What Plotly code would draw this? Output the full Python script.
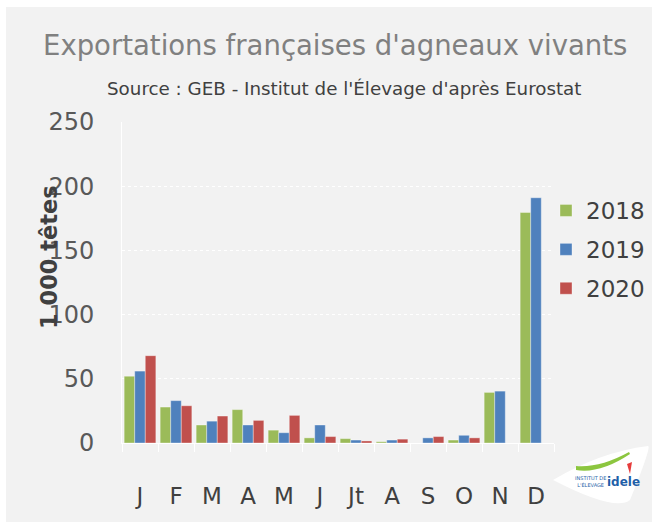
import plotly.graph_objects as go

months = ["J", "F", "M", "A", "M ", "J ", "Jt", "A ", "S", "O", "N", "D"]
tick_labels = ["J", "F", "M", "A", "M", "J", "Jt", "A", "S", "O", "N", "D"]
v2018 = [52, 28, 14, 26, 10, 4, 3.4, 1, None, 2.3, 39.4, 179.5]
v2019 = [56, 33, 17, 14, 8, 14, 2.3, 2.3, 4, 6, 40.4, 191]
v2020 = [68, 29, 21, 17.6, 21.5, 5, 1.6, 3, 5, 4, None, None]

series = [("2018", v2018, "#9bbb59"), ("2019", v2019, "#4f81bd"), ("2020", v2020, "#c0504d")]

W, H = 661, 522
L, R, T, B = 122, 554, 122, 443

def px(x):
    return (x - L) / (R - L)

def py(y):
    return (B - y) / (B - T)

FONT = "DejaVu Sans"

fig = go.Figure()
for i, (name, vals, col) in enumerate(series):
    fig.add_trace(go.Bar(
        x=months, y=vals, name=name, marker_color=col,
        marker_line=dict(color="rgba(255,255,255,0.35)", width=1),
        legendgroup=name,
    ))

shapes = [
    dict(type="rect", xref="paper", yref="paper", x0=px(6), x1=px(652), y0=py(7), y1=py(522),
         fillcolor="#f2f2f2", line=dict(width=0), layer="below"),
    dict(type="path", xref="paper", yref="paper",
         path="M {},{} Q {},{} {},{} Q {},{} {},{} Q {},{} {},{} Z".format(
             px(553), py(480), px(600), py(452), px(648), py(446),
             px(652), py(446), px(630), py(500),
             px(615), py(512), px(553), py(480)),
         fillcolor="white", line=dict(width=0), layer="above"),
    dict(type="path", xref="paper", yref="paper",
         path="M {},{} Q {},{} {},{} L {},{} Q {},{} {},{} Z".format(
             px(576), py(466), px(600), py(468), px(629), py(452),
             px(630), py(454), px(600), py(474), px(576), py(470)),
         fillcolor="#8cc63f", line=dict(width=0), layer="above"),
    dict(type="path", xref="paper", yref="paper",
         path="M {},{} L {},{} L {},{} Z".format(
             px(627), py(464), px(632), py(462), px(630), py(474)),
         fillcolor="#e63c3c", line=dict(width=0), layer="above"),
]

annotations = [
    dict(text="Exportations françaises d'agneaux vivants", x=px(335), y=py(45), xref="paper", yref="paper",
         showarrow=False, font=dict(family=FONT, size=27.5, color="#808080"), xanchor="center", yanchor="middle"),
    dict(text="Source : GEB - Institut de l'Élevage d'après Eurostat", x=px(344), y=py(88), xref="paper", yref="paper",
         showarrow=False, font=dict(family=FONT, size=18.3, color="#404040"), xanchor="center", yanchor="middle"),
    dict(text="<b>1 000 têtes</b>", x=px(49), y=py(257), xref="paper", yref="paper", textangle=-90,
         showarrow=False, font=dict(family=FONT, size=22.5, color="#404040"), xanchor="center", yanchor="middle"),
    dict(text="<b>idele</b>", x=px(623), y=py(482), xref="paper", yref="paper",
         showarrow=False, font=dict(family=FONT, size=12, color="#1f5fa8"), xanchor="center", yanchor="middle"),
    dict(text="INSTITUT DE<br>L'ÉLEVAGE", x=px(590), y=py(482), xref="paper", yref="paper",
         showarrow=False, font=dict(family=FONT, size=5, color="#1f5fa8"), xanchor="center", yanchor="middle"),
]

fig.update_layout(
    width=W, height=H,
    margin=dict(l=L, r=W - R, t=T, b=H - B, autoexpand=False),
    paper_bgcolor="white",
    plot_bgcolor="rgba(0,0,0,0)",
    barmode="group", bargap=0.12, bargroupgap=0,
    font=dict(family=FONT, color="#595959"),
    shapes=shapes,
    annotations=annotations,
    showlegend=True,
    legend=dict(x=546 / W, y=1 - 189 / H, xanchor="left", yanchor="top", xref="container", yref="container",
                font=dict(family=FONT, size=23, color="#404040"), bgcolor="rgba(0,0,0,0)",
                tracegroupgap=6, itemwidth=30),
    xaxis=dict(tickmode="array", tickvals=months, ticktext=tick_labels, tickson="boundaries",
               ticks="outside", ticklen=8, tickcolor="white", showline=True, linecolor="white",
               linewidth=1, showgrid=False, tickfont=dict(family=FONT, size=23, color="#404040"),
               ticklabelstandoff=32, automargin=False),
    yaxis=dict(range=[0, 250], tickvals=[0, 50, 100, 150, 200, 250], showline=True, linecolor="white",
               linewidth=1, showgrid=True, gridcolor="white", griddash="dot", gridwidth=1,
               zeroline=False, ticks="", tickfont=dict(family=FONT, size=24, color="#595959"),
               ticklabelstandoff=22, automargin=False),
)

fig.write_html("out.html", config={"displayModeBar": False},
               post_script="document.body.style.margin='0';")
